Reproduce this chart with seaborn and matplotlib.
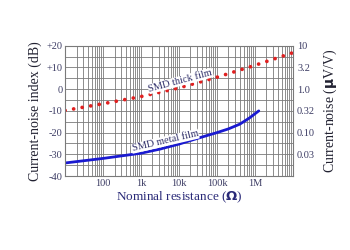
import numpy as np
import pandas as pd
import matplotlib
matplotlib.use("Agg")
import matplotlib.pyplot as plt
import seaborn as sns
from matplotlib.ticker import FixedLocator, NullFormatter

# Data
thick_R = [10, 100, 1e3, 1e4, 1e5, 1e6, 1e7]
thick_dB = [-9.8, -6.7, -3.4, 0.6, 5.5, 11, 16.8]
metal_R = [10, 100, 1e3, 3.16e3, 1e4, 3.16e4, 1e5, 2e5, 4e5, 7.1e5, 1.26e6]
metal_dB = [-34, -31.9, -29.5, -27.6, -25.3, -22.6, -20.0, -18.3, -16.1, -13.3, -10]

left_ticks = [20, 10, 0, -10, -20, -30, -40]
left_labels = ["+20", "+10", "0", "-10", "-20", "-30", "-40"]
right_ticks = [20, 10, 0, -10, -20, -30]
right_labels = ["10", "3.2", "1.0", "0.32", "0.10", "0.03"]
x_ticks = [100, 1e3, 1e4, 1e5, 1e6]
x_labels = ["100", "1k", "10k", "100k", "1M"]

sns.set_theme(style="white")
plt.rcParams['font.family'] = ['Liberation Serif', 'DejaVu Serif']

fig = plt.figure(figsize=(3.5, 2.5), dpi=100)
ax = fig.add_axes([0.186, 0.296, 0.651, 0.521])

df_t = pd.DataFrame({"R": thick_R, "dB": thick_dB})
df_m = pd.DataFrame({"R": metal_R, "dB": metal_dB})

ax.set_xscale("log")

sns.lineplot(data=df_m, x="R", y="dB", ax=ax, color="#1a1ad0", linewidth=2.0)
sns.lineplot(data=df_t, x="R", y="dB", ax=ax, color="#e02020", linewidth=2.7,
             linestyle=(0, (0.01, 2.3)))
for l in ax.lines:
    l.set_dash_capstyle("round")
    l.set_solid_capstyle("round")

ax.set_xlim(10, 1e7)
ax.set_ylim(-40, 20)

minor_x = [m * 10.0 ** e for e in range(1, 7) for m in range(2, 10)]
ax.xaxis.set_major_locator(FixedLocator(x_ticks))
ax.xaxis.set_minor_locator(FixedLocator(minor_x))
ax.xaxis.set_minor_formatter(NullFormatter())
ax.set_yticks(left_ticks)
ax.yaxis.set_minor_locator(FixedLocator([15, 5, -5, -15, -25, -35]))

ax.grid(True, which="both", axis="both", color="#7a7a7a", linewidth=0.6)
ax.set_axisbelow(True)
ax.set_zorder(1)

tc = "#3c3c64"
ax.set_xticklabels(x_labels, fontsize=7.5, color=tc)
ax.set_yticklabels(left_labels, fontsize=7.5, color=tc)
ax.tick_params(which="both", length=0, pad=2)

for s in ax.spines.values():
    s.set_color("#7a7a7a")
    s.set_linewidth(0.8)

ax.set_xlabel(r"Nominal resistance (" + r"$\mathbf{\Omega}$" + ")", fontsize=9.5,
              color="#2a2a78", labelpad=1)
ax.set_ylabel("Current-noise index (dB)", fontsize=10, color="#202030", labelpad=3)

ax.text(1.1e4, 3.8, "SMD thick film", rotation=15, fontsize=7.5, color="#30306a",
        ha="center", va="center",
        bbox=dict(facecolor="white", edgecolor="none", pad=0.3))
ax.text(4.3e3, -24.0, "SMD metal film", rotation=13, fontsize=7.5, color="#30306a",
        ha="center", va="center",
        bbox=dict(facecolor="white", edgecolor="none", pad=0.3))

ax2 = ax.twinx()
ax2.set_ylim(-40, 20)
ax2.set_yticks(right_ticks)
ax2.set_yticklabels(right_labels, fontsize=7.5, color=tc)
ax2.tick_params(length=0, pad=3)
ax2.set_ylabel(r"Current-noise ($\mathbf{\mu}$V/V)", fontsize=10, color="#202030",
               labelpad=5)
for s in ax2.spines.values():
    s.set_visible(False)

fig.savefig("out.png", dpi=100)
